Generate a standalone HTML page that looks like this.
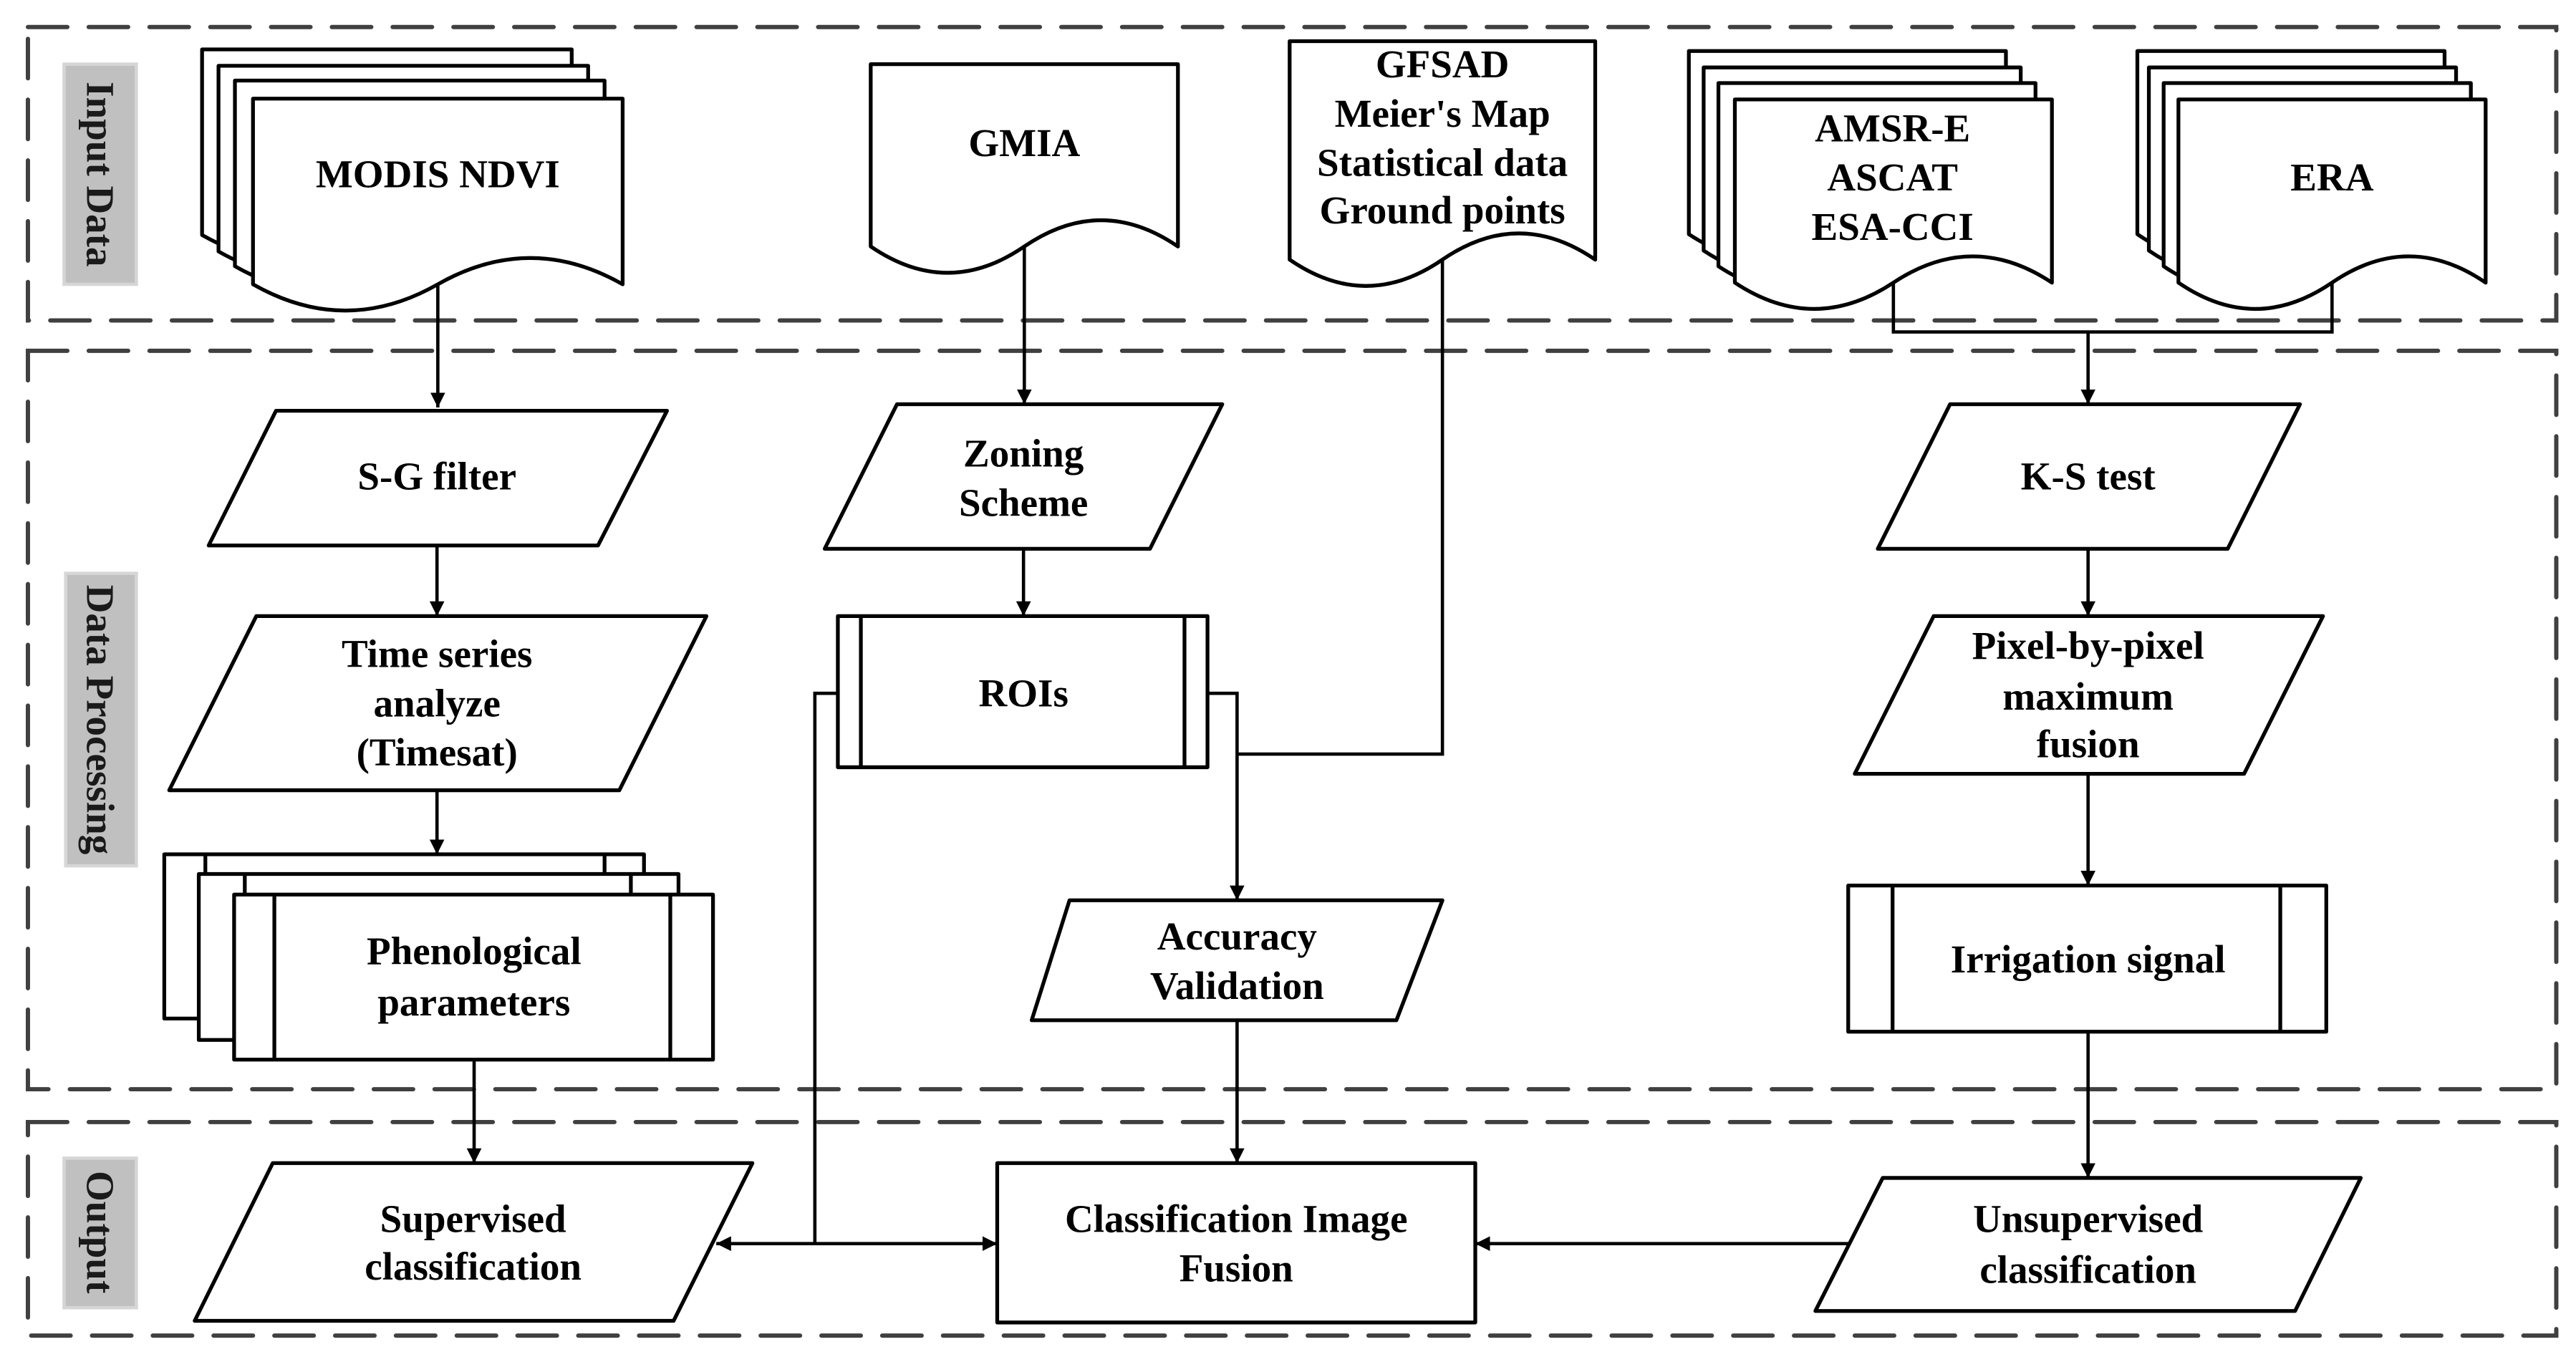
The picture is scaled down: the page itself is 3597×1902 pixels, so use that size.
<!DOCTYPE html>
<html><head><meta charset="utf-8"><style>
html,body{margin:0;padding:0;background:#fff;}
svg{display:block;}
text{font-family:"Liberation Serif",serif;font-weight:bold;font-size:24px;fill:#000;text-anchor:middle;}
</style></head><body>
<svg width="3597" height="1902" viewBox="0 0 1568 829" xmlns="http://www.w3.org/2000/svg">
<defs>
<marker id="ah" viewBox="0 0 10 10" refX="10" refY="5" markerWidth="4.5" markerHeight="4.5" orient="auto-start-reverse" markerUnits="strokeWidth">
<path d="M0 0 L10 5 L0 10 Z" fill="#000"/></marker>
</defs>
<rect width="1568" height="829" fill="#fff"/>
<!-- dashed sections -->
<g fill="none" stroke="#404040" stroke-width="2.6" stroke-dasharray="24 13" stroke-linecap="round">
<rect x="17" y="16.4" width="1539" height="178.6"/>
<rect x="17" y="213.5" width="1539" height="449.5"/>
<rect x="17" y="683" width="1539" height="130"/>
</g>
<!-- gray labels -->
<g fill="#c0c0c0" stroke="#d6d6d6" stroke-width="2">
<rect x="39" y="39" width="44" height="134"/>
<rect x="40" y="349" width="43" height="178"/>
<rect x="39" y="705" width="44" height="91"/>
</g>
<text transform="translate(53 106) rotate(90)" style="fill:#1a1a1a">Input Data</text>
<text transform="translate(53 438) rotate(90)" style="fill:#1a1a1a">Data Processing</text>
<text transform="translate(53 750) rotate(90)" style="fill:#1a1a1a">Output</text>

<!-- connectors -->
<g fill="none" stroke="#000" stroke-width="2">
<path d="M266.5 173 V248" marker-end="url(#ah)"/>
<path d="M266 333 V375" marker-end="url(#ah)"/>
<path d="M266 481 V520" marker-end="url(#ah)"/>
<path d="M288.6 645 V708" marker-end="url(#ah)"/>
<path d="M623.5 150 V246" marker-end="url(#ah)"/>
<path d="M623 334 V375" marker-end="url(#ah)"/>
<path d="M878 158 V459 H753"/>
<path d="M735 422 H753 V548" marker-end="url(#ah)"/>
<path d="M510 422 H496 V757"/>
<path d="M436 757 H607" marker-start="url(#ah)" marker-end="url(#ah)"/>
<path d="M753 621 V708" marker-end="url(#ah)"/>
<path d="M1152.5 172 V202 H1419.5 V172"/>
<path d="M1271 202 V246" marker-end="url(#ah)"/>
<path d="M1271 334 V375" marker-end="url(#ah)"/>
<path d="M1271 471 V539" marker-end="url(#ah)"/>
<path d="M1271 628 V717" marker-end="url(#ah)"/>
<path d="M1126 757 H898" marker-end="url(#ah)"/>
</g>

<!-- shapes -->
<g fill="#fff" stroke="#000" stroke-width="2.3" stroke-linejoin="round">
<!-- MODIS stack -->
<g transform="translate(-31 -30)"><path d="M154 60 H379 V173 Q322.75 141 266.5 173 Q210.25 205 154 173 Z"/></g>
<g transform="translate(-21 -20)"><path d="M154 60 H379 V173 Q322.75 141 266.5 173 Q210.25 205 154 173 Z"/></g>
<g transform="translate(-11 -11)"><path d="M154 60 H379 V173 Q322.75 141 266.5 173 Q210.25 205 154 173 Z"/></g>
<path d="M154 60 H379 V173 Q322.75 141 266.5 173 Q210.25 205 154 173 Z"/>
<!-- GMIA -->
<path d="M530 39 H717 V150 Q670.25 118 623.5 150 Q576.75 182 530 150 Z"/>
<!-- GFSAD -->
<path d="M785 25 H971 V158 Q924.5 126 878 158 Q831.5 190 785 158 Z"/>
<!-- AMSR stack -->
<g transform="translate(-28 -29.5)"><path d="M1056 60.5 H1249 V172 Q1200.75 140 1152.5 172 Q1104.25 204 1056 172 Z"/></g>
<g transform="translate(-19 -19.5)"><path d="M1056 60.5 H1249 V172 Q1200.75 140 1152.5 172 Q1104.25 204 1056 172 Z"/></g>
<g transform="translate(-10 -10)"><path d="M1056 60.5 H1249 V172 Q1200.75 140 1152.5 172 Q1104.25 204 1056 172 Z"/></g>
<path d="M1056 60.5 H1249 V172 Q1200.75 140 1152.5 172 Q1104.25 204 1056 172 Z"/>
<!-- ERA stack -->
<g transform="translate(-25 -29.5)"><path d="M1326 60.5 H1513 V172 Q1466.25 140 1419.5 172 Q1372.75 204 1326 172 Z"/></g>
<g transform="translate(-18 -19.5)"><path d="M1326 60.5 H1513 V172 Q1466.25 140 1419.5 172 Q1372.75 204 1326 172 Z"/></g>
<g transform="translate(-9 -10)"><path d="M1326 60.5 H1513 V172 Q1466.25 140 1419.5 172 Q1372.75 204 1326 172 Z"/></g>
<path d="M1326 60.5 H1513 V172 Q1466.25 140 1419.5 172 Q1372.75 204 1326 172 Z"/>

<!-- parallelograms -->
<path d="M168 250 H406 L364 332 H127 Z"/>
<path d="M156 375 H430 L377 481 H103 Z"/>
<path d="M166 708 H458 L410 804 H118.5 Z"/>
<path d="M546 246 H744 L700 334 H502 Z"/>
<path d="M651 548 H878 L850 621 H628 Z"/>
<path d="M1187 246 H1400 L1356 334 H1143 Z"/>
<path d="M1177 375 H1414 L1366 471 H1129 Z"/>
<path d="M1146 717 H1437 L1397 798 H1105 Z"/>

<!-- phenological stack -->
<rect x="100" y="520" width="292" height="100"/>
<path d="M125 520 V532 M368 520 V532" fill="none"/>
<rect x="121" y="532" width="292" height="101"/>
<path d="M149 532 V544.5 M384 532 V544.5" fill="none"/>
<rect x="142.5" y="544.5" width="291.5" height="100.5"/>
<path d="M167 544.5 V645 M408 544.5 V645" fill="none"/>

<!-- ROIs -->
<rect x="510" y="375" width="225" height="92"/>
<path d="M524 375 V467 M721 375 V467" fill="none"/>
<!-- Irrigation -->
<rect x="1125" y="539" width="291" height="89"/>
<path d="M1152 539 V628 M1388 539 V628" fill="none"/>
<!-- Classification fusion -->
<rect x="607" y="708" width="291" height="97"/>
</g>

<!-- labels -->
<text x="266.5" y="114">MODIS NDVI</text>
<text x="623.5" y="95">GMIA</text>
<text x="878" y="47">GFSAD</text>
<text x="878" y="77">Meier's Map</text>
<text x="878" y="107">Statistical data</text>
<text x="878" y="136">Ground points</text>
<text x="1152" y="86">AMSR-E</text>
<text x="1152" y="116">ASCAT</text>
<text x="1152" y="146">ESA-CCI</text>
<text x="1419.5" y="116">ERA</text>
<text x="266" y="298">S-G filter</text>
<text x="266" y="406">Time series</text>
<text x="266" y="436">analyze</text>
<text x="266" y="466">(Timesat)</text>
<text x="288.5" y="587">Phenological</text>
<text x="288.5" y="618">parameters</text>
<text x="288" y="750">Supervised</text>
<text x="288" y="779">classification</text>
<text x="623" y="284">Zoning</text>
<text x="623" y="314">Scheme</text>
<text x="623" y="430">ROIs</text>
<text x="753" y="578">Accuracy</text>
<text x="753" y="608">Validation</text>
<text x="752.5" y="750">Classification Image</text>
<text x="752.5" y="780">Fusion</text>
<text x="1271" y="298">K-S test</text>
<text x="1271" y="401">Pixel-by-pixel</text>
<text x="1271" y="432">maximum</text>
<text x="1271" y="461">fusion</text>
<text x="1271" y="592">Irrigation signal</text>
<text x="1271" y="750">Unsupervised</text>
<text x="1271" y="781">classification</text>
</svg>
</body></html>
